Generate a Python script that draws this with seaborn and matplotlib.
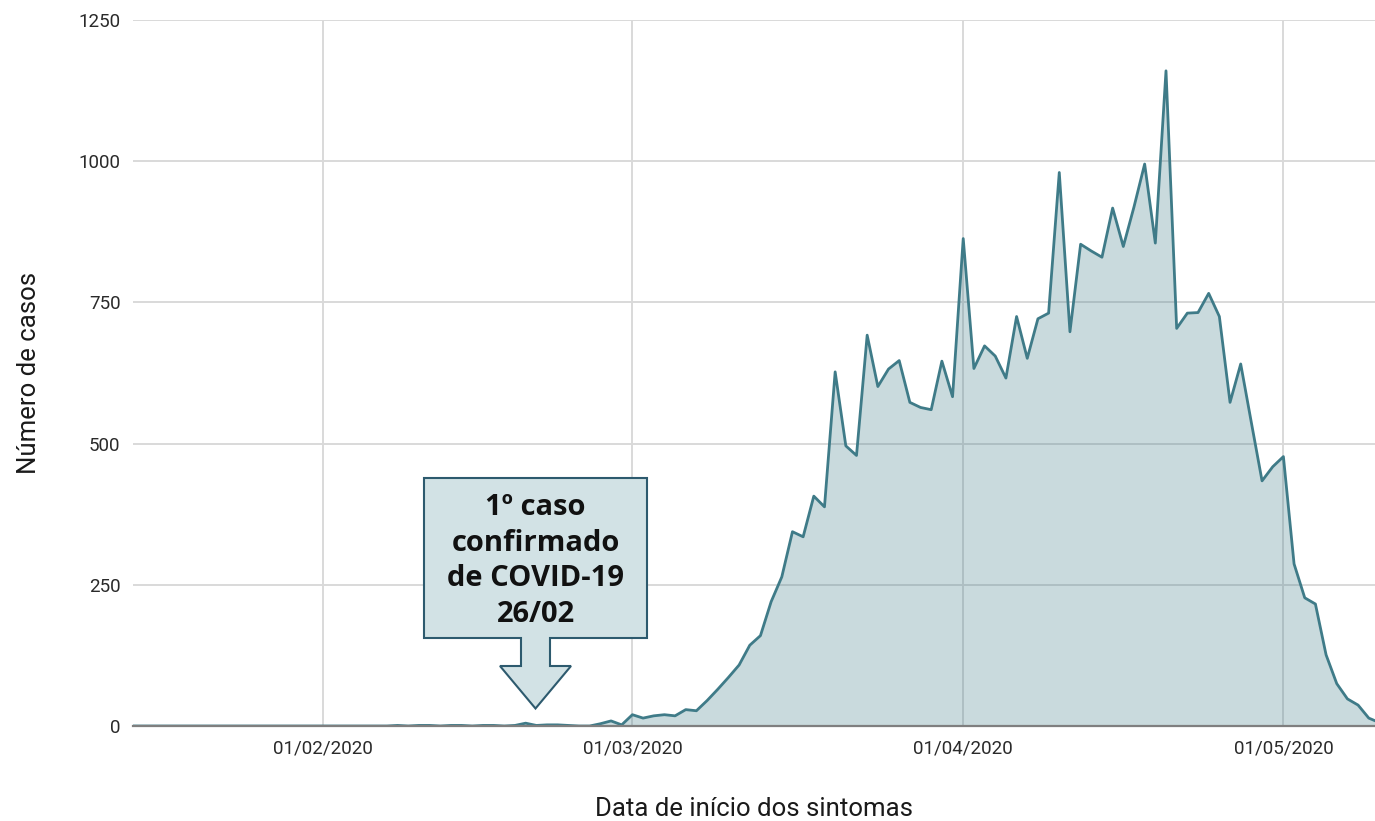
import numpy as np
import pandas as pd
import matplotlib
matplotlib.use("Agg")
import matplotlib.pyplot as plt
import matplotlib.dates as mdates
from matplotlib.patches import Polygon
import seaborn as sns

# ---------------- data ----------------
start_date = "2020-01-14"
jan_feb_values = ([0] * 25 +                              # Jan 14 - Feb 7
                  [1, 0, 1, 1, 0, 1, 1, 0, 1, 1, 0, 1] +   # Feb 8 - Feb 19
                  [5, 1, 2, 2, 1, 0, 0, 4, 9, 2])          # Feb 20 - Feb 29
mar_values = [20, 14, 18, 20, 18, 29, 27, 45, 65, 86, 108, 143, 160, 220, 264,
              344, 335, 407, 388, 627, 496, 479, 692, 601, 632, 647, 573, 564,
              560, 646, 583]
apr_values = [863, 633, 673, 655, 616, 725, 651, 721, 731, 980, 698, 853, 841,
              830, 917, 849, 919, 995, 855, 1160, 704, 731, 732, 766, 725, 573,
              641, 537, 434, 459]
may_values = [477, 287, 227, 216, 126, 75, 48, 37, 14, 6]

tick_dates = ["2020-02-01", "2020-03-01", "2020-04-01", "2020-05-01"]
tick_labels = ["01/02/2020", "01/03/2020", "01/04/2020", "01/05/2020"]
y_ticks = [0, 250, 500, 750, 1000, 1250]

x_label = "Data de início dos sintomas"
y_label = "Número de casos"
note_text = "1º caso\nconfirmado\nde COVID-19\n26/02"

values = jan_feb_values + mar_values + apr_values + may_values
dates = pd.date_range(start_date, periods=len(values), freq="D")
df = pd.DataFrame({"data": dates, "casos": values})

# ---------------- style ----------------
sns.set_theme(style="whitegrid")
plt.rcParams["font.family"] = ["Roboto", "DejaVu Sans"]

line_color = "#3f7b88"
fill_color = "#3f7b88"
grid_color = "#d9d9d9"

W, H = 1375, 821
fig = plt.figure(figsize=(W / 100, H / 100), dpi=100)
ax = fig.add_axes([133 / W, 1 - 726 / H, (1375 - 133) / W, (726 - 20) / H])

ax.fill_between(df["data"], df["casos"], 0, color=fill_color, alpha=0.28,
                linewidth=0, zorder=2)
sns.lineplot(data=df, x="data", y="casos", ax=ax, color=line_color,
             linewidth=2.0, zorder=3)

ax.set_xlim(pd.Timestamp("2020-01-14 05:00"), pd.Timestamp("2020-05-09 14:00"))
ax.set_ylim(0, 1250)
ax.set_yticks(y_ticks)
ax.set_yticklabels([str(v) for v in y_ticks])
ax.set_xticks(pd.to_datetime(tick_dates))
ax.set_xticklabels(tick_labels)

ax.grid(True, color=grid_color, linewidth=1.4, zorder=1)
ax.set_axisbelow(True)
for s in ["left", "right", "top"]:
    ax.spines[s].set_visible(False)
ax.spines["bottom"].set_color("#7f7f7f")
ax.spines["bottom"].set_linewidth(1.6)
ax.spines["bottom"].set_zorder(4)

ax.tick_params(axis="both", length=0, labelsize=13.5, labelcolor="#2a2a2a")
ax.tick_params(axis="y", pad=9)
ax.tick_params(axis="x", pad=10)

ax.set_xlabel(x_label, fontsize=18.5, color="#1a1a1a", labelpad=28)
ax.set_ylabel(y_label, fontsize=18.5, color="#1a1a1a", labelpad=27)

# ---------------- annotation (box + block arrow) ----------------
pts_px = [(424, 478), (647, 478), (647, 638), (550, 638), (550, 666),
          (571, 666), (535.5, 708.5), (500, 666), (521, 666), (521, 638),
          (424, 638)]
pts = [(x / W, 1 - y / H) for x, y in pts_px]
poly = Polygon(pts, closed=True, transform=fig.transFigure,
               facecolor="#d2e2e5", edgecolor="#2d5a6e", linewidth=1.5,
               zorder=10)
fig.patches.append(poly)
fig.text(535.5 / W, 1 - 561 / H, note_text, ha="center", va="center",
         fontsize=21, fontweight="bold", family=["Open Sans", "DejaVu Sans"],
         color="#111111", linespacing=1.3, zorder=11)

fig.savefig("out.png", dpi=100)
